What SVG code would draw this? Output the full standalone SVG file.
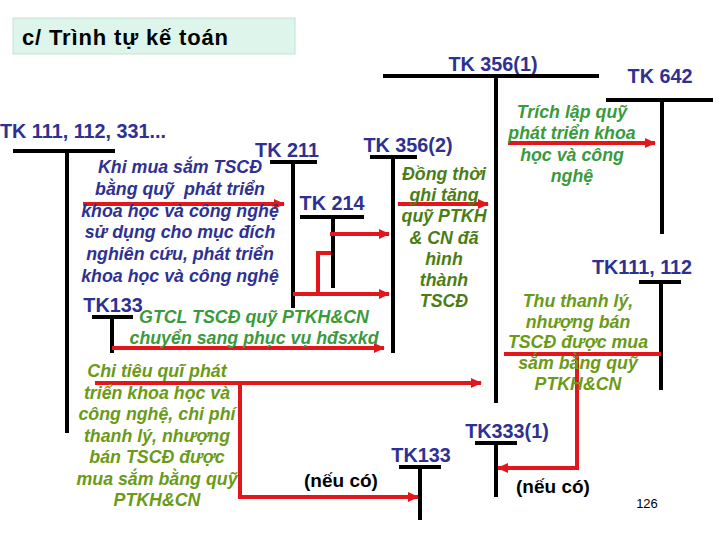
<svg xmlns="http://www.w3.org/2000/svg" width="720" height="540" viewBox="0 0 720 540">
<style>
.acc{font-family:"Liberation Sans",Arial,sans-serif;font-weight:bold;font-size:19.8px;fill:#2e3192}
.blk{stroke:#000;stroke-width:4;fill:none}
.red{stroke:#e3161b;stroke-width:4;fill:none}
.lbl{font-family:"Liberation Sans",Arial,sans-serif;font-weight:bold;font-style:italic;font-size:17.8px;text-anchor:middle}
.blue{fill:#2e3192}
.g1{fill:#3a9a3c}
.g2{fill:#4b7d14}
.g3{fill:#6b9a16}
.note{font-family:"Liberation Sans",Arial,sans-serif;font-weight:bold;font-size:19px;fill:#000;text-anchor:middle}
</style>
<defs>
<marker id="ah" markerUnits="userSpaceOnUse" markerWidth="12" markerHeight="12" refX="10" refY="6" orient="auto">
<path d="M0,1 L11,6 L0,11 Z" fill="#e3161b"/>
</marker>
</defs>
<rect width="720" height="540" fill="#fff"/>
<g id="title">
<rect x="13" y="18" width="282" height="36" fill="#def5ec" stroke="#c3e3d6" stroke-width="1"/>
<text x="22" y="45" font-family="Liberation Sans,Arial,sans-serif" font-weight="bold" font-size="22" fill="#000" textLength="206" lengthAdjust="spacing">c/ Trình tự kế toán</text>
</g>
<g id="tk3561">
<text class="acc" x="493" y="71" text-anchor="middle">TK 356(1)</text>
<path class="blk" d="M383,76 H599 M496,76 V403"/>
</g>
<g id="tk642">
<text class="acc" x="660" y="83" text-anchor="middle">TK 642</text>
<path class="blk" d="M606,100 H713 M662,100 V234"/>
</g>
<g id="tk111112">
<text class="acc" x="642" y="274" text-anchor="middle">TK111, 112</text>
<path class="blk" d="M639,282 H681 M661,282 V390"/>
</g>
<g id="tk111112331">
<text class="acc" x="0" y="138">TK 111, 112, 331...</text>
<path class="blk" d="M13,151 H115 M67,151 V433"/>
</g>
<g id="tk211">
<text class="acc" x="287" y="157" text-anchor="middle">TK 211</text>
<path class="blk" d="M270,162 H317 M293,162 V308"/>
</g>
<g id="tk214">
<text class="acc" x="332" y="210" text-anchor="middle">TK 214</text>
<path class="blk" d="M300,217 H364 M333,217 V288"/>
</g>
<g id="tk3562">
<text class="acc" x="408" y="152" text-anchor="middle">TK 356(2)</text>
<path class="blk" d="M370,157 H417 M393,157 V353"/>
</g>
<g id="tk133a">
<text class="acc" x="113" y="312" text-anchor="middle">TK133</text>
<path class="blk" d="M92,317 H133 M112,317 V353"/>
</g>
<g id="tk3331">
<text class="acc" x="507" y="438" text-anchor="middle">TK333(1)</text>
<path class="blk" d="M475,443 H517 M496,443 V497"/>
</g>
<g id="tk133b">
<text class="acc" x="421" y="462" text-anchor="middle">TK133</text>
<path class="blk" d="M399,467 H441 M420,467 V520"/>
</g>
<g id="connectors">
<path class="red" d="M83,204 H284" marker-end="url(#ah)"/>
<path class="red" d="M398,204 H488" marker-end="url(#ah)"/>
<path class="red" d="M508,143 H655" marker-end="url(#ah)"/>
<path class="red" d="M330,234 H389" marker-end="url(#ah)"/>
<path class="red" d="M293,294 H389" marker-end="url(#ah)"/>
<path class="red" d="M331,253 H318 V294"/>
<path class="red" d="M112,348 H384" marker-end="url(#ah)"/>
<path class="red" d="M95,383 H481" marker-end="url(#ah)"/>
<path class="red" d="M240,383 V497 H418" marker-end="url(#ah)"/>
<path class="red" d="M504,354 H661"/>
<path class="red" d="M577,354 V468 H498" marker-end="url(#ah)"/>
</g>
<g id="labels">
<text class="lbl blue" x="180" y="173">Khi mua sắm TSCĐ<tspan x="180" dy="21.8">bằng quỹ&#160; phát triển</tspan><tspan x="180" dy="21.8">khoa học và công nghệ</tspan><tspan x="180" dy="21.8">sử dụng cho mục đích</tspan><tspan x="180" dy="21.8">nghiên cứu, phát triển</tspan><tspan x="180" dy="21.8">khoa học và công nghệ</tspan></text>
<text class="lbl g2" x="444" y="180">Đồng thời<tspan x="444" dy="21.2">ghi tăng</tspan><tspan x="444" dy="21.2">quỹ PTKH</tspan><tspan x="444" dy="21.2">&amp; CN đã</tspan><tspan x="444" dy="21.2">hình</tspan><tspan x="444" dy="21.2">thành</tspan><tspan x="444" dy="21.2">TSCĐ</tspan></text>
<text class="lbl g1" x="572" y="118">Trích lập quỹ<tspan x="572" dy="21.3">phát triển khoa</tspan><tspan x="572" dy="21.3">học và công</tspan><tspan x="572" dy="21.3">nghệ</tspan></text>
<text class="lbl g3" x="578" y="307">Thu thanh lý,<tspan x="578" dy="20.7">nhượng bán</tspan><tspan x="578" dy="20.7">TSCĐ được mua</tspan><tspan x="578" dy="20.7">sắm bằng quỹ</tspan><tspan x="578" dy="20.7">PTKH&amp;CN</tspan></text>
<text class="lbl g1" x="254" y="323">GTCL TSCĐ quỹ PTKH&amp;CN<tspan x="254" dy="21">chuyển sang phục vụ hđsxkd</tspan></text>
<text class="lbl g3" x="157" y="377">Chi tiêu quĩ phát<tspan x="157" dy="21.5">triển khoa học và</tspan><tspan x="157" dy="21.5">công nghệ, chi phí</tspan><tspan x="157" dy="21.5">thanh lý, nhượng</tspan><tspan x="157" dy="21.5">bán TSCĐ được</tspan><tspan x="157" dy="21.5">mua sắm bằng quỹ</tspan><tspan x="157" dy="21.5">PTKH&amp;CN</tspan></text>
<text class="note" x="341" y="487">(nếu có)</text>
<text class="note" x="553" y="493">(nếu có)</text>
<text x="647" y="508" font-family="Liberation Sans,Arial,sans-serif" font-size="13" fill="#000" text-anchor="middle">126</text>
</g>
</svg>
